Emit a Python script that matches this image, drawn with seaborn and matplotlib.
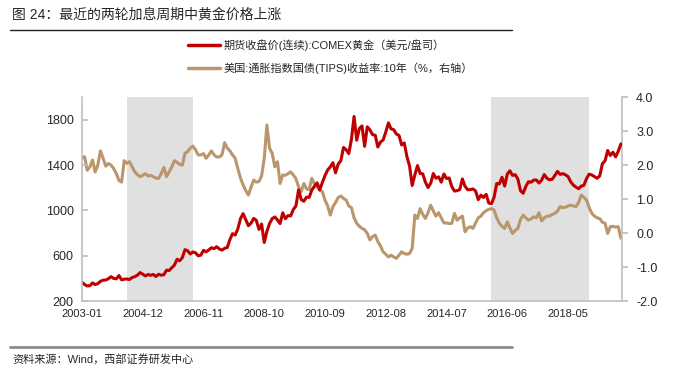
import matplotlib
matplotlib.use("Agg")
import matplotlib.pyplot as plt
import seaborn as sns
import pandas as pd
import numpy as np
from matplotlib.lines import Line2D

# ---- data -------------------------------------------------------------
START_MONTH = "2003-01"
END_MONTH = "2020-01"

# COMEX gold, continuous futures close (USD/oz), monthly
gold_price = [
    367, 347, 334, 336, 361, 346, 354, 375, 385, 386, 398, 416,   # 2003
    400, 397, 426, 388, 394, 395, 391, 408, 416, 429, 452, 438,   # 2004
    422, 435, 428, 435, 417, 437, 429, 433, 473, 470, 495, 518,   # 2005
    569, 556, 584, 654, 645, 616, 634, 626, 600, 606, 648, 635,   # 2006
    652, 671, 663, 680, 660, 650, 666, 673, 743, 795, 783, 838,   # 2007
    927, 972, 918, 865, 888, 930, 913, 833, 880, 717, 814, 884,   # 2008
    928, 943, 916, 884, 979, 927, 955, 952, 1008, 1040, 1182, 1096,   # 2009
    1081, 1118, 1115, 1180, 1213, 1244, 1181, 1247, 1308, 1357, 1385, 1421,   # 2010
    1332, 1410, 1439, 1556, 1536, 1502, 1628, 1829, 1620, 1723, 1746, 1566,   # 2011
    1738, 1711, 1669, 1664, 1560, 1604, 1622, 1692, 1773, 1720, 1713, 1675,   # 2012
    1662, 1578, 1596, 1476, 1393, 1220, 1313, 1396, 1327, 1323, 1250, 1202,   # 2013
    1240, 1326, 1284, 1296, 1250, 1322, 1282, 1287, 1210, 1171, 1175, 1184,   # 2014
    1278, 1213, 1183, 1184, 1190, 1172, 1095, 1135, 1115, 1142, 1065, 1060,   # 2015
    1116, 1238, 1234, 1293, 1215, 1321, 1350, 1309, 1316, 1277, 1174, 1152,   # 2016
    1211, 1253, 1249, 1268, 1269, 1242, 1267, 1317, 1284, 1271, 1275, 1309,   # 2017
    1345, 1318, 1325, 1315, 1299, 1253, 1224, 1206, 1192, 1215, 1222, 1282,   # 2018
    1321, 1313, 1298, 1284, 1305, 1413, 1437, 1529, 1485, 1514, 1473, 1523,   # 2019
    1587,                                                                     # 2020
]

# US 10y TIPS yield (%), monthly
tips_yield = [
    2.20, 2.25, 1.85, 1.95, 2.15, 1.80, 2.00, 2.42, 2.20, 1.97, 2.05, 2.00,   # 2003
    1.90, 1.75, 1.55, 1.50, 2.13, 2.05, 2.10, 1.95, 1.80, 1.72, 1.66, 1.70,   # 2004
    1.75, 1.68, 1.70, 1.66, 1.62, 1.61, 1.75, 1.93, 1.66, 1.80, 1.95, 2.13,   # 2005
    2.08, 2.02, 2.00, 2.35, 2.40, 2.50, 2.56, 2.45, 2.30, 2.30, 2.34, 2.20,   # 2006
    2.30, 2.42, 2.30, 2.24, 2.24, 2.30, 2.66, 2.50, 2.42, 2.30, 2.20, 1.90,   # 2007
    1.62, 1.42, 1.25, 1.12, 1.35, 1.56, 1.50, 1.52, 1.68, 2.20, 3.18, 2.50,   # 2008
    2.35, 1.95, 2.10, 1.46, 1.71, 1.70, 1.75, 1.80, 1.71, 1.60, 1.36, 1.22,   # 2009
    1.46, 1.30, 1.28, 1.61, 1.45, 1.36, 1.26, 1.22, 0.97, 0.80, 0.53, 0.78,   # 2010
    0.90, 1.05, 1.09, 1.02, 0.97, 0.80, 0.75, 0.45, 0.29, 0.20, 0.14, 0.10,   # 2011
    -0.01, -0.20, -0.10, -0.06, -0.25, -0.38, -0.55, -0.62, -0.70, -0.65, -0.70, -0.74,   # 2012
    -0.65, -0.55, -0.60, -0.62, -0.60, -0.45, 0.53, 0.43, 0.72, 0.55, 0.43, 0.60,   # 2013
    0.82, 0.65, 0.50, 0.60, 0.45, 0.30, 0.30, 0.28, 0.29, 0.58, 0.38, 0.45,   # 2014
    0.50, 0.04, 0.15, 0.19, 0.14, 0.30, 0.45, 0.50, 0.60, 0.66, 0.70, 0.72,   # 2015
    0.68, 0.45, 0.29, 0.20, 0.14, 0.33, 0.15, -0.01, 0.08, 0.14, 0.40, 0.53,   # 2016
    0.45, 0.38, 0.42, 0.48, 0.45, 0.60, 0.36, 0.45, 0.50, 0.50, 0.55, 0.58,   # 2017
    0.65, 0.78, 0.75, 0.76, 0.80, 0.82, 0.80, 0.78, 0.90, 1.12, 1.05, 0.97,   # 2018
    0.75, 0.58, 0.50, 0.45, 0.43, 0.32, 0.29, -0.01, 0.19, 0.20, 0.18, 0.19,   # 2019
    -0.15,                                                                    # 2020
]

# Fed hiking cycles (shaded)
hike_periods = [("2004-06", "2006-07"), ("2015-12", "2019-01")]

xtick_labels = ["2003-01", "2004-12", "2006-11", "2008-10", "2010-09",
                "2012-08", "2014-07", "2016-06", "2018-05"]
left_ticks = [200, 600, 1000, 1400, 1800]
right_ticks = [-2.0, -1.0, 0.0, 1.0, 2.0, 3.0, 4.0]

TITLE = "图 24：最近的两轮加息周期中黄金价格上涨"
LABEL_GOLD = "期货收盘价(连续):COMEX黄金（美元/盘司）"
LABEL_TIPS = "美国:通胀指数国债(TIPS)收益率:10年（%，右轴）"
SOURCE = "资料来源：Wind，西部证券研发中心"

# ---- build frame ------------------------------------------------------
months = pd.period_range(START_MONTH, END_MONTH, freq="M").strftime("%Y-%m")
df = pd.DataFrame({"month": months, "gold": gold_price, "tips": tips_yield})
df["idx"] = np.arange(len(df))
pos = {m: i for i, m in enumerate(df["month"])}

RED = "#C00000"
TAN = "#B9966C"
SHADE = "#E0E0E0"
AXIS_GRAY = "#BFBFBF"

sns.set_theme(style="white")
plt.rcParams["font.family"] = ["Liberation Sans", "Noto Sans CJK SC", "DejaVu Sans"]
plt.rcParams["axes.unicode_minus"] = False

fig = plt.figure(figsize=(6.83, 3.75), dpi=100)
ax = fig.add_axes([0.120, 0.197, 0.791, 0.544])
ax2 = ax.twinx()

# ax2 (right axis) sits behind ax: shading and TIPS go there, gold on top
for a, b in hike_periods:
    ax2.axvspan(pos[a], pos[b], color=SHADE, lw=0, zorder=0)

sns.lineplot(data=df, x="idx", y="tips", ax=ax2, color=TAN, lw=2.2, legend=False, zorder=2)
sns.lineplot(data=df, x="idx", y="gold", ax=ax, color=RED, lw=2.2, legend=False)
ax.set_zorder(ax2.get_zorder() + 1)
ax.patch.set_visible(False)

ax.set_xlim(0, 204.5)
ax.set_ylim(200, 2000)
ax2.set_ylim(-2, 4)
ax.set_xticks([pos[m] for m in xtick_labels])
ax.set_xticklabels(xtick_labels, fontsize=8)
ax.set_yticks(left_ticks)
ax.set_yticklabels([str(v) for v in left_ticks], fontsize=9)
ax2.set_yticks(right_ticks)
ax2.set_yticklabels([f"{v:.1f}" for v in right_ticks], fontsize=9)
ax.set_xlabel("")
ax.set_ylabel("")
ax2.set_ylabel("")

for a in (ax, ax2):
    a.spines["top"].set_visible(False)
    for s in ("left", "right", "bottom"):
        a.spines[s].set_color(AXIS_GRAY)
        a.spines[s].set_linewidth(1.2)
ax.spines["right"].set_visible(False)
ax2.spines["left"].set_visible(False)
ax2.spines["bottom"].set_visible(False)
ax.tick_params(axis="x", direction="in", length=4, color=AXIS_GRAY, pad=6)
ax.tick_params(axis="y", direction="in", length=4, color=AXIS_GRAY, pad=6)
ax2.tick_params(axis="y", direction="out", length=4, color=AXIS_GRAY, pad=6)
ax.grid(False)
ax2.grid(False)

handles = [Line2D([], [], color=RED, lw=2.5), Line2D([], [], color=TAN, lw=2.5)]
fig.legend(handles, [LABEL_GOLD, LABEL_TIPS], loc="upper left",
           bbox_to_anchor=(0.275, 0.895), frameon=False, fontsize=8,
           handlelength=2.9, handletextpad=0.3, labelspacing=1.0,
           borderpad=0, borderaxespad=0)

fig.text(0.018, 0.96, TITLE, fontsize=10, va="center", ha="left")
fig.add_artist(Line2D([0.015, 0.75], [1 - 30 / 375] * 2, color="#222222", lw=1.0))
fig.add_artist(Line2D([0.015, 0.75], [1 - 347 / 375] * 2, color="#8C8C8C", lw=2.0))
fig.text(0.018, 0.042, SOURCE, fontsize=8, va="center", ha="left")

fig.savefig("out.png", dpi=100)
